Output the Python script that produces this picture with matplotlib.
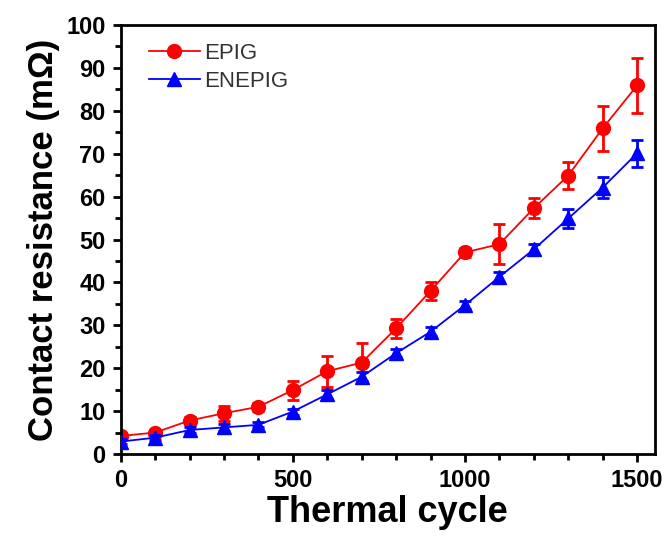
import matplotlib
matplotlib.use("Agg")
import matplotlib.pyplot as plt
from matplotlib.ticker import MultipleLocator

cycles = [0, 100, 200, 300, 400, 500, 600, 700, 800, 900, 1000, 1100, 1200, 1300, 1400, 1500]
epig = [4.2, 5.0, 7.8, 9.5, 11.0, 14.9, 19.3, 21.3, 29.3, 38.0, 47.0, 48.9, 57.3, 64.9, 75.9, 85.9]
epig_err = [0.6, 0.6, 0.9, 1.8, 0.9, 2.2, 3.6, 4.5, 2.2, 2.0, 1.0, 4.6, 2.3, 3.1, 5.3, 6.4]
enepig = [2.9, 3.8, 5.6, 6.2, 6.8, 9.9, 13.9, 18.0, 23.5, 28.5, 34.7, 41.3, 47.7, 54.9, 62.1, 70.1]
enepig_err = [0.6, 0.6, 0.6, 0.8, 0.6, 0.7, 1.0, 1.0, 1.0, 1.0, 1.0, 1.2, 1.2, 2.2, 2.5, 3.1]

plt.rcParams['font.family'] = ['Liberation Sans', 'DejaVu Sans']

fig = plt.figure(figsize=(6.68, 5.41), dpi=100)
ax = fig.add_axes([0.1807, 0.1608, 0.7998, 0.793])

c1 = ax.errorbar(cycles, epig, yerr=epig_err, color='#FF0000', marker='o', markersize=10,
                 linewidth=1.3, elinewidth=2, capsize=4.5, capthick=2, label='EPIG', zorder=2)
c2 = ax.errorbar(cycles, enepig, yerr=enepig_err, color='#0000FF', marker='^', markersize=10,
                 linewidth=1.3, elinewidth=2, capsize=4.5, capthick=2, label='ENEPIG', zorder=3)

ax.set_xlim(0, 1552)
ax.set_ylim(0, 100)
ax.xaxis.set_major_locator(MultipleLocator(500))
ax.xaxis.set_minor_locator(MultipleLocator(100))
ax.yaxis.set_major_locator(MultipleLocator(10))
ax.yaxis.set_minor_locator(MultipleLocator(5))

for s in ax.spines.values():
    s.set_linewidth(2)
ax.tick_params(which='major', direction='out', length=6, width=2, pad=5,
               labelsize=17)
ax.tick_params(which='minor', direction='out', length=4, width=2)
for lab in ax.get_xticklabels() + ax.get_yticklabels():
    lab.set_fontweight('bold')

ax.set_xlabel('Thermal cycle', fontsize=26, fontweight='bold', labelpad=2)
ax.set_ylabel('Contact resistance (mΩ)', fontsize=25, fontweight='bold', labelpad=4)

leg = ax.legend(handles=[c1[0], c2[0]], labels=['EPIG', 'ENEPIG'],
                loc='upper left', bbox_to_anchor=(0.015, 1.005), frameon=False,
                fontsize=16, handlelength=2.3, handletextpad=0.2, labelspacing=0.3)
for t in leg.get_texts():
    t.set_color('#333333')

fig.savefig('out.png', dpi=100)
